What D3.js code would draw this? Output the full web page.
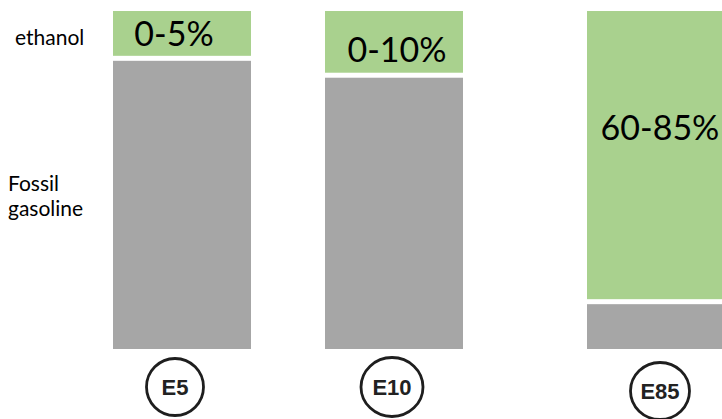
<!DOCTYPE html>
<html>
<head>
<meta charset="utf-8">
<script src="https://cdn.jsdelivr.net/npm/d3@7"></script>
<style>
  html, body { margin: 0; padding: 0; background: #fff; overflow: hidden; }
  svg { display: block; }
</style>
</head>
<body>
<svg id="chart" width="722" height="419"></svg>
<script>
// ---- data ----
const categories = ["E5", "E10", "E85"];
const fossilShare = [86.0, 81.0, 14.0];     // grey segment (bottom)
const ethanolShare = [14.0, 19.0, 86.0];    // green segment (top)
const ethanolLabels = ["0-5%", "0-10%", "60-85%"];
const rowLabels = [["ethanol"], ["Fossil", "gasoline"]];

// ---- layout (positions / styles only) ----
const W = 722, H = 419;
const barLeft = [113, 325, 587];
const barWidth = 138;
const labelCenter = [174, 397, 660];
const labelBaselineValue = [89.7, 84.8, 61.8];
const iconCenter = [[175, 387], [392, 387], [660, 391]];
const iconRadii = [[28.5, 28.5], [31, 29.5], [29.5, 28.5]];
const gap = 5;
const green = "#A9D18E", grey = "#A6A6A6";

const svg = d3.select("#chart");

const x = d3.scaleOrdinal().domain(categories).range(barLeft);
const y = d3.scaleLinear().domain([0, 100]).range([349, 11]);

const rows = categories.map((c, i) => ({
  cat: c, fossil: fossilShare[i], ethanol: ethanolShare[i], label: ethanolLabels[i], i
}));

// grey (fossil) segments
svg.append("g").selectAll("rect").data(rows).join("rect")
  .attr("x", d => x(d.cat))
  .attr("width", barWidth)
  .attr("y", d => y(d.fossil) + gap / 2)
  .attr("height", d => y(0) - y(d.fossil) - gap / 2)
  .attr("fill", grey);

// green (ethanol) segments
svg.append("g").selectAll("rect").data(rows).join("rect")
  .attr("x", d => x(d.cat))
  .attr("width", barWidth)
  .attr("y", d => y(d.fossil + d.ethanol))
  .attr("height", d => y(d.fossil) - y(d.fossil + d.ethanol) - gap / 2)
  .attr("fill", green);

// share labels
svg.append("g").selectAll("text").data(rows).join("text")
  .attr("x", d => labelCenter[d.i])
  .attr("y", d => y(labelBaselineValue[d.i]))
  .attr("text-anchor", "middle")
  .attr("font-family", "Lato, 'Open Sans', sans-serif")
  .attr("font-size", 34)
  .attr("fill", "#000")
  .text(d => d.label);

// row labels
const rl = svg.append("g")
  .attr("font-family", "Lato, 'Open Sans', sans-serif")
  .attr("font-size", 21)
  .attr("fill", "#000");
rl.append("text").attr("x", 15).attr("y", 45).text(rowLabels[0][0]);
const fg = rl.append("text").attr("x", 8).attr("y", 191);
fg.append("tspan").attr("x", 8).text(rowLabels[1][0]);
fg.append("tspan").attr("x", 8).attr("dy", 25).text(rowLabels[1][1]);

// fuel-type icons
const icons = svg.append("g").selectAll("g").data(rows).join("g")
  .attr("transform", d => `translate(${iconCenter[d.i][0]},${iconCenter[d.i][1]})`);
icons.append("ellipse")
  .attr("rx", d => iconRadii[d.i][0])
  .attr("ry", d => iconRadii[d.i][1])
  .attr("fill", "#fff")
  .attr("stroke", "#1e1e1e")
  .attr("stroke-width", 2.8);
icons.append("text")
  .attr("text-anchor", "middle")
  .attr("y", 8)
  .attr("font-family", "'Liberation Sans', Arial, sans-serif")
  .attr("font-weight", "bold")
  .attr("font-size", 22)
  .attr("fill", "#222")
  .text(d => d.cat);
</script>
</body>
</html>
